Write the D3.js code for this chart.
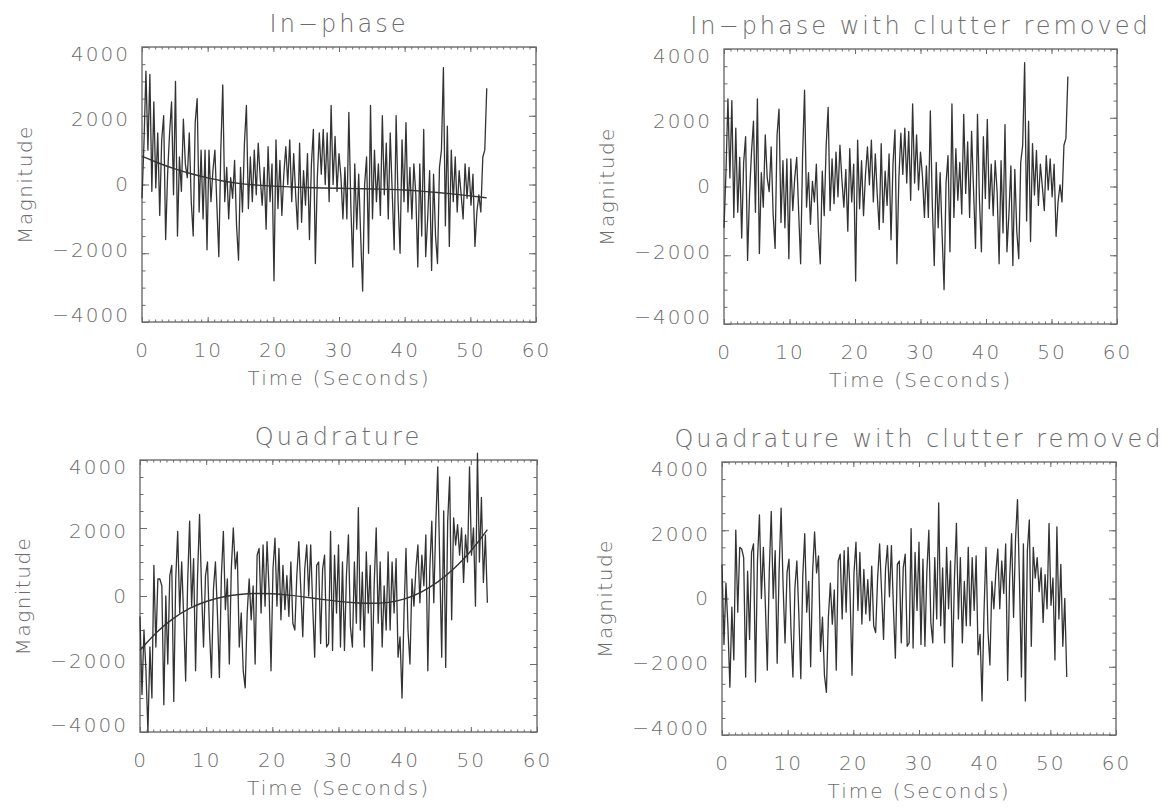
<!DOCTYPE html>
<html>
<head>
<meta charset="utf-8">
<script src="https://cdn.jsdelivr.net/npm/d3@7"></script>
<style>
body { margin: 0; background: #fff; }
svg text { font-family: "DejaVu Sans", sans-serif; font-weight: 200; fill: #6c6c6c; }
</style>
</head>
<body>
<svg id="fig" width="1170" height="811"></svg>
<script>
// samples are 0.3 s apart, trend (clutter fit) points 2.5 s apart
var dt = 0.3;
var trendStep = 2.5;
var xTicks = [0, 10, 20, 30, 40, 50, 60];
var yTicks = [-4000, -2000, 0, 2000, 4000];

var inPhase = [
  -400, 1200, 3300, 1000, 3200, -200, 2400, -100, 1500, -900,
  1300, 2000, -1600, 300, 1500, 2400, -300, 3000, -1500, 800,
  -200, 1900, 600, 200, 1500, -500, -1500, 1800, 2500, -800,
  1000, -1000, 1000, -1900, 1000, -500, 400, 1000, -600, -2100,
  1000, 2900, -500, 500, -1000, 200, -400, 700, -1200, -2200,
  500, -800, 1200, 2300, -700, 800, -500, 1000, -300, 1200,
  200, -600, 500, -1300, 1100, -500, 600, -2800, 1300, -700,
  700, -900, 300, 1100, 0, 1300, -500, 900, -300, -1300,
  1200, -1100, 400, -600, 900, -1600, 600, 1600, -2300, 200,
  1500, 300, 1600, 0, 1500, -500, 2300, 0, 1400, -200,
  900, 200, -1000, 500, -1000, 2100, -600, -2400, 600, -1300,
  300, -1500, -3100, 0, 800, -2000, 2300, -1000, 1000, -500,
  600, -900, 2000, -300, 1200, -1000, 1500, -200, -1900, 2000,
  -500, -2000, 1300, -500, 1800, -800, 500, -1000, 600, -300,
  -2400, 600, -1500, 1600, -2100, -1000, 400, -2500, 300, -1500,
  -2300, 500, 1000, 3400, -1200, 1700, -1800, 1000, -500, 800,
  -800, 400, -300, -1000, 600, -400, 500, -600, 300, -1800,
  -800, -300, -800, 800, 1000, 2800
];
var inPhaseTrend = [
  820, 620, 450, 310, 190, 90, 20, -20, -50, -70, -90,
  -100, -110, -120, -130, -140, -160, -190, -230, -280, -330, -390
];
var inPhaseClean = [
  -1200, 400, 2550, 250, 2500, -900, 1700, -750, 850, -1500,
  700, 1450, -2150, -200, 1000, 1900, -750, 2550, -1950, 400,
  -600, 1500, 250, -150, 1150, -800, -1800, 1500, 2250, -1050,
  750, -1200, 800, -2100, 800, -700, 250, 850, -750, -2250,
  900, 2800, -600, 400, -1100, 150, -450, 650, -1250, -2250,
  450, -850, 1200, 2300, -700, 800, -500, 1000, -300, 1200,
  200, -600, 500, -1300, 1100, -450, 650, -2750, 1350, -650,
  750, -850, 350, 1150, 50, 1350, -450, 950, -250, -1250,
  1250, -1050, 450, -550, 950, -1550, 650, 1650, -2250, 250,
  1550, 350, 1700, 100, 1600, -400, 2400, 100, 1500, -100,
  1000, 300, -900, 600, -900, 2200, -500, -2300, 700, -1200,
  400, -1400, -3000, 100, 900, -1900, 2400, -900, 1100, -400,
  700, -800, 2100, -200, 1300, -900, 1600, -100, -1800, 2100,
  -400, -1900, 1450, -350, 1950, -650, 650, -850, 750, -150,
  -2250, 750, -1350, 1800, -1900, -800, 600, -2300, 500, -1300,
  -2100, 700, 1200, 3600, -1000, 1900, -1600, 1250, -250, 1050,
  -550, 650, 0, -700, 900, -100, 800, -300, 650, -1450,
  -450, 50, -450, 1200, 1400, 3200
];

var quad = [
  -600, -2900, -1000, -2200, -4000, -1500, -3000, 900, -1500, 500,
  500, 300, -3200, 0, -2000, 600, 900, -3100, 500, 1900,
  -500, 1000, -600, -2500, 400, 2200, -300, 1100, -2200, 600,
  2400, 200, -1500, 600, 1000, -1000, -2400, 200, 1000, -500,
  -2400, 600, 1900, -400, 500, -2000, 800, 2000, 800, 1300,
  -1500, -500, -2200, -2700, -500, 500, -700, 300, -2000, 1200,
  1400, -500, 1500, -300, 1600, 200, -2200, 800, 1700, -300,
  1400, -700, 900, -400, 600, -600, 1000, -800, -1000, 600,
  1600, 200, -1200, 800, 1500, 0, 1500, -300, -1800, 900,
  1000, -1400, 800, 1200, -1500, -1400, 1900, -1600, 1200, -500,
  1500, -1500, 1000, -1600, 600, 1800, -900, -1500, 1000, -800,
  2600, -1000, 700, -1500, 1300, -500, 900, -2200, 400, 2000,
  -800, 1000, -1500, 300, -1000, 1300, -1000, 1000, -500, 1100,
  -1800, -1200, -3000, -500, 1400, -1000, -2000, 500, -300, 800,
  1500, -200, 1200, 300, 1800, -2200, 800, 2200, -200, 2100,
  3800, 1000, -1800, 2500, -2100, 2200, 3500, -700, 2300, 1500,
  2100, 1200, 2000, 400, 1800, 1000, 3800, 1200, 2000, -300,
  4200, 1000, 2900, 400, 1800, -200
];
var quadTrend = [
  -1600, -1050, -650, -350, -150, -20, 50, 80, 70, 30, -30,
  -100, -160, -200, -220, -200, -100, 100, 400, 800, 1300, 1950
];
var quadClean = [
  1000, -1350, 450, -800, -2600, -250, -1800, 2000, -400, 1500,
  1450, 1200, -2300, 800, -1200, 1350, 1600, -2450, 1100, 2450,
  0, 1500, -150, -2100, 800, 2550, 0, 1400, -1900, 850,
  2650, 400, -1300, 750, 1150, -900, -2300, 300, 1100, -450,
  -2350, 650, 1900, -400, 500, -2000, 780, 1950, 750, 1250,
  -1550, -550, -2250, -2750, -550, 450, -750, 250, -2100, 1100,
  1300, -600, 1400, -400, 1500, 150, -2250, 750, 1650, -350,
  1350, -750, 850, -450, 550, -650, 950, -800, -1000, 600,
  1600, 200, -1200, 850, 1550, 50, 1550, -250, -1750, 1000,
  1100, -1300, 900, 1300, -1400, -1300, 2050, -1450, 1350, -350,
  1650, -1350, 1150, -1400, 800, 2000, -700, -1300, 1200, -600,
  2800, -800, 900, -1300, 1500, -300, 1100, -2000, 600, 2200,
  -600, 1200, -1300, 500, -800, 1500, -800, 1200, -350, 1250,
  -1650, -1050, -3000, -400, 1500, -950, -1950, 500, -300, 750,
  1450, -300, 1100, 150, 1600, -2400, 550, 1900, -550, 1750,
  2900, 500, -2300, 1600, -3000, 1400, 2300, -1400, 1500, 600,
  1200, 200, 900, -700, 700, -300, 2200, -200, 600, -1800,
  2100, -600, 1000, -1400, 0, -2300
];

var panels = [
  { title: "In\u2212phase", values: inPhase, trend: inPhaseTrend, box: [142, 47, 536, 322] },
  { title: "In\u2212phase with clutter removed", values: inPhaseClean, trend: null, box: [724, 49, 1117, 324] },
  { title: "Quadrature", values: quad, trend: quadTrend, box: [140, 460, 537, 732] },
  { title: "Quadrature with clutter removed", values: quadClean, trend: null, box: [722, 462, 1116, 735] }
];

var svg = d3.select('#fig');
var ink = '#6c6c6c';
var lineInk = '#333';

function minusFormat(d) {
  return d < 0 ? '\u2212' + Math.abs(d) : String(d);
}

function styleAxis(g) {
  g.attr('font-size', null).attr('font-family', null);
  g.select('.domain').remove();
  g.selectAll('.tick line').attr('stroke', ink).attr('stroke-width', 1);
  g.selectAll('.tick text')
    .attr('fill', ink)
    .style('font-size', '20px')
    .style('letter-spacing', '2px');
}

function drawPanel(p) {
  var x0 = p.box[0], y0 = p.box[1], x1 = p.box[2], y1 = p.box[3];
  var x = d3.scaleLinear().domain([0, 60]).range([x0, x1]);
  var y = d3.scaleLinear().domain([-4000, 4000]).range([y1, y0]);
  var g = svg.append('g');

  // minor ticks on all four sides
  g.append('g').attr('transform', 'translate(0,' + y1 + ')')
    .call(d3.axisBottom(x).tickValues(d3.range(0, 61, 1)).tickSize(-2.5).tickFormat(''))
    .call(styleAxis);
  g.append('g').attr('transform', 'translate(0,' + y0 + ')')
    .call(d3.axisTop(x).tickValues(d3.range(0, 61, 1)).tickSize(-2.5).tickFormat(''))
    .call(styleAxis);
  g.append('g').attr('transform', 'translate(' + x0 + ',0)')
    .call(d3.axisLeft(y).tickValues(d3.range(-4000, 4001, 500)).tickSize(-3.5).tickFormat(''))
    .call(styleAxis);
  g.append('g').attr('transform', 'translate(' + x1 + ',0)')
    .call(d3.axisRight(y).tickValues(d3.range(-4000, 4001, 500)).tickSize(-3.5).tickFormat(''))
    .call(styleAxis);

  // major ticks + labels
  g.append('g').attr('transform', 'translate(0,' + y1 + ')')
    .call(d3.axisBottom(x).tickValues(xTicks).tickSize(-5).tickPadding(21).tickFormat(d3.format('d')))
    .call(styleAxis);
  g.append('g').attr('transform', 'translate(0,' + y0 + ')')
    .call(d3.axisTop(x).tickValues(xTicks).tickSize(-5).tickFormat(''))
    .call(styleAxis);
  var yAxis = g.append('g').attr('transform', 'translate(' + x0 + ',0)')
    .call(d3.axisLeft(y).tickValues(yTicks).tickSize(-7).tickPadding(12).tickFormat(minusFormat))
    .call(styleAxis);
  // outer labels sit a little inside the frame, as in the original plot
  var mid = (y0 + y1) / 2;
  yAxis.selectAll('.tick text').attr('y', function(d) { return (mid - y(d)) * 0.05; });
  g.append('g').attr('transform', 'translate(' + x1 + ',0)')
    .call(d3.axisRight(y).tickValues(yTicks).tickSize(-7).tickFormat(''))
    .call(styleAxis);

  g.append('rect')
    .attr('x', x0).attr('y', y0)
    .attr('width', x1 - x0).attr('height', y1 - y0)
    .attr('fill', 'none').attr('stroke', ink).attr('stroke-width', 1.4);

  var line = d3.line()
    .x(function(d, i) { return x(i * dt); })
    .y(function(d) { return y(d); });
  g.append('path')
    .datum(p.values)
    .attr('d', line)
    .attr('fill', 'none').attr('stroke', lineInk).attr('stroke-width', 1.3)
    .attr('stroke-linejoin', 'round');

  if (p.trend) {
    var trendLine = d3.line()
      .curve(d3.curveBasis)
      .x(function(d, i) { return x(i * trendStep); })
      .y(function(d) { return y(d); });
    g.append('path')
      .datum(p.trend)
      .attr('d', trendLine)
      .attr('fill', 'none').attr('stroke', lineInk).attr('stroke-width', 1.4);
  }

  g.append('text')
    .attr('x', (x0 + x1) / 2).attr('y', y0 - 15)
    .attr('text-anchor', 'middle')
    .style('font-size', '24px').style('letter-spacing', '3px')
    .text(p.title);
  g.append('text')
    .attr('x', (x0 + x1) / 2).attr('y', y1 + 63)
    .attr('text-anchor', 'middle')
    .style('font-size', '20px').style('letter-spacing', '2px')
    .text('Time (Seconds)');
  g.append('text')
    .attr('transform', 'translate(' + (x0 - 110) + ',' + ((y0 + y1) / 2) + ') rotate(-90)')
    .attr('text-anchor', 'middle')
    .style('font-size', '20px').style('letter-spacing', '1.5px')
    .text('Magnitude');
}

panels.forEach(drawPanel);
</script>
</body>
</html>
